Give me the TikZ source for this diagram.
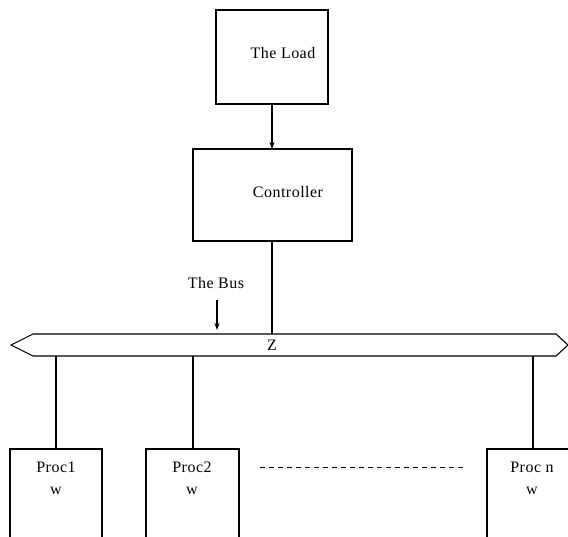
\documentclass[tikz,border=0pt]{standalone}
\usepackage{fontspec}
\setmainfont{Liberation Serif}[LetterSpace=3]
\usetikzlibrary{arrows.meta}
\begin{document}
\begin{tikzpicture}[x=1pt,y=-1pt,
  box/.style={draw,line width=1.1pt},
  wire/.style={line width=1.1pt},
  lbl/.style={font=\fontsize{16}{19}\selectfont,inner sep=0pt},
  arr/.style={wire,-{Stealth[length=7pt,width=5pt]}}]
\useasboundingbox (0,0) rectangle (568,537);
\begin{scope}
\clip (0,0) rectangle (568,537);
% top boxes
\draw[box] (216,10) rectangle (328,104);
\node[lbl] (load) at (283,53) {The Load};
\coordinate (loadb) at (272,104);
\draw[box] (193,149) rectangle (352,241);
\node[lbl] (ctrl) at (288,192) {Controller};
\coordinate (ctrlt) at (272,149);
\coordinate (ctrlb) at (272,241);
\draw[arr] (loadb) -- (ctrlt);
% bus
\draw[box] (33,334) -- (556,334) -- (568,345) -- (556,356) -- (33,356) -- (11,345) -- cycle;
\node[lbl] (z) at (272,345) {Z};
\coordinate (bustc) at (272,334);
\draw[wire] (ctrlb) -- (bustc);
\node[lbl] (bus) at (216,283) {The Bus};
\coordinate (busa) at (217,300);
\coordinate (busb) at (217,330);
\draw[arr] (busa) -- (busb);
% processors
\draw[box] (10,545) -- (10,449) -- (102,449) -- (102,545);
\draw[box] (146,545) -- (146,449) -- (239,449) -- (239,545);
\draw[box] (487,545) -- (487,449) -- (580,449);
\coordinate (b1) at (56,356); \coordinate (p1) at (56,449);
\coordinate (b2) at (193,356); \coordinate (p2) at (193,449);
\coordinate (b3) at (533,356); \coordinate (p3) at (533,449);
\draw[wire] (b1) -- (p1);
\draw[wire] (b2) -- (p2);
\draw[wire] (b3) -- (p3);
\node[lbl] (proc1) at (56,467) {Proc1};
\node[lbl] (w1) at (56,491) {w};
\node[lbl] (proc2) at (192,467) {Proc2};
\node[lbl] (w2) at (192,491) {w};
\node[lbl] (procn) at (532,467) {Proc n};
\node[lbl] (w3) at (532,491) {w};
\coordinate (d1) at (260,467);
\coordinate (d2) at (466,467);
\draw[wire,dash pattern=on 5pt off 4pt,line width=0.9pt] (d1) -- (d2);
\end{scope}
\end{tikzpicture}
\end{document}
